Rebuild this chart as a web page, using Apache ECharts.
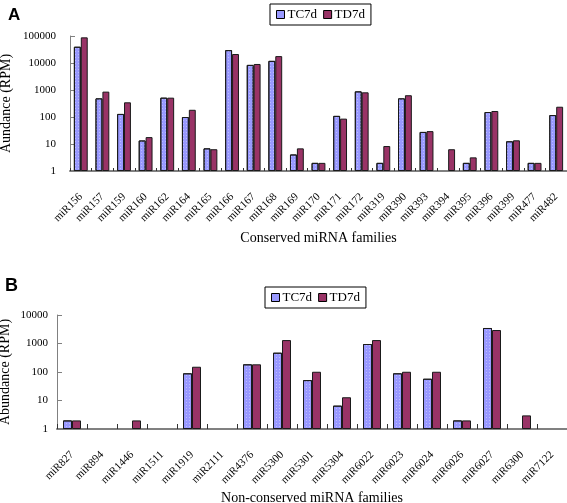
<!DOCTYPE html>
<html>
<head>
<meta charset="utf-8">
<script src="https://cdn.jsdelivr.net/npm/echarts@6/dist/echarts.min.js"></script>
<style>html,body{margin:0;padding:0;background:#fff;}#c{width:567px;height:503px;}</style>
</head>
<body>
<div id="c"></div>
<script>
var catsA = ['miR156','miR157','miR159','miR160','miR162','miR164','miR165','miR166','miR167','miR168','miR169','miR170','miR171','miR172','miR319','miR390','miR393','miR394','miR395','miR396','miR399','miR477','miR482'];
var tcA = [40000, 490, 130, 13.5, 520, 100, 6.9, 30000, 8500, 12000, 4.1, 2, 110, 890, 2, 490, 28, null, 2, 153, 12.6, 2, 118];
var tdA = [89000, 870, 350, 18, 520, 185, 6.4, 21500, 9200, 18000, 6.9, 2, 87, 820, 8.4, 640, 30, 6.4, 3.2, 167, 13.7, 2, 240];

var catsB = ['miR827','miR894','miR1446','miR1511','miR1919','miR2111','miR4376','miR5300','miR5301','miR5304','miR6022','miR6023','miR6024','miR6026','miR6027','miR6300','miR7122'];
var tcB = [2, null, null, null, 90, null, 186, 475, 52, 6.6, 960, 90, 58, 2, 3500, null, null];
var tdB = [2, null, 2, null, 153, null, 186, 1320, 102, 13, 1320, 102, 102, 2, 2970, 3, null];

var seriesNames = ['TC7d', 'TD7d'];
var titleA = 'A', titleB = 'B';
var yNameA = 'Aundance (RPM)', yNameB = 'Abundance (RPM)';
var xNameA = 'Conserved miRNA families', xNameB = 'Non-conserved miRNA families';

function clean(a){ return a.map(function(v){ return v == null ? '-' : v; }); }
var serif = '"Liberation Serif", "Times New Roman", serif';
var BLUE = '#9999ff', RED = '#993366';

function xAx(idx, cats, name, gap){
  return {
    type: 'category', gridIndex: idx, data: cats, boundaryGap: true,
    name: name, nameLocation: 'middle', nameGap: gap, nameMoveOverlap: false,
    nameTextStyle: {fontFamily: serif, fontSize: 14, color: '#000'},
    axisLine: {lineStyle: {color: '#808080', width: 2}},
    axisTick: {show: true, inside: true, length: idx === 0 ? 3 : 5, interval: 0, lineStyle: {color: '#333'}},
    axisLabel: {interval: 0, rotate: 45, margin: 24, fontFamily: serif, fontSize: 11, color: '#000'}
  };
}
function yAx(idx, max, name, gap, fs){
  return {
    type: 'log', logBase: 10, gridIndex: idx, min: 1, max: max,
    name: name, nameLocation: 'middle', nameGap: gap, nameMoveOverlap: false,
    nameTextStyle: {fontFamily: serif, fontSize: 14, color: '#000'},
    axisLine: {show: true, lineStyle: {color: '#808080', width: 1}},
    axisTick: {show: true, inside: true, length: 5, lineStyle: {color: '#808080'}},
    splitLine: {show: false},
    axisLabel: {fontFamily: serif, fontSize: fs, color: '#000', margin: idx === 0 ? 14 : 9,
      formatter: function(v){ return String(Math.round(v)); }}
  };
}
function bar(name, data, x, y, color, gapCat, dotted){
  var st = {color: color, borderColor: '#1a1a1a', borderWidth: 1};
  if (dotted) {
    st.decal = {symbol: 'rect', symbolSize: 1, color: 'rgba(255,255,255,0.35)',
      dashArrayX: [1, 2], dashArrayY: [1, 2], rotation: 0};
  }
  return {
    name: name, type: 'bar', xAxisIndex: x, yAxisIndex: y, data: clean(data),
    barGap: '0%', barCategoryGap: gapCat,
    itemStyle: st,
    emphasis: {disabled: true}, animation: false
  };
}
function legend(left, top){
  return {
    left: left, top: top, orient: 'horizontal', data: seriesNames,
    borderColor: '#000', borderWidth: 1, padding: [4, 6, 4, 6],
    itemWidth: 8, itemHeight: 8, itemGap: 6, icon: 'rect',
    itemStyle: {borderColor: '#000', borderWidth: 1, decal: 'none'},
    textStyle: {fontFamily: serif, fontSize: 13, color: '#000', padding: [0, 0, 0, -2]},
    selectedMode: false
  };
}

var chart = echarts.init(document.getElementById('c'), null, {renderer: 'canvas'});
chart.setOption({
  animation: false,
  backgroundColor: '#fff',
  title: [
    {text: titleA, left: 3, top: 2, textStyle: {fontFamily: '"Liberation Sans", Arial, sans-serif', fontWeight: 900, fontSize: 17, color: '#000'}},
    {text: titleB, left: 0, top: 272, textStyle: {fontFamily: '"Liberation Sans", Arial, sans-serif', fontWeight: 900, fontSize: 18, color: '#000'}}
  ],
  legend: [legend(270, 4), legend(265, 287)],
  grid: [
    {left: 70, right: 0, top: 36, height: 135, outerBoundsMode: 'none', containLabel: false},
    {left: 57, right: 0, top: 315, height: 114, outerBoundsMode: 'none', containLabel: false}
  ],
  xAxis: [xAx(0, catsA, xNameA, 60), xAx(1, catsB, xNameB, 62)],
  yAxis: [yAx(0, 100000, yNameA, 57, 11), yAx(1, 10000, yNameB, 45, 11)],
  series: [
    bar(seriesNames[0], tcA, 0, 0, BLUE, '36%', true),
    bar(seriesNames[1], tdA, 0, 0, RED, '36%', false),
    bar(seriesNames[0], tcB, 1, 1, BLUE, '40%', true),
    bar(seriesNames[1], tdB, 1, 1, RED, '40%', false)
  ]
});
</script>
</body>
</html>
